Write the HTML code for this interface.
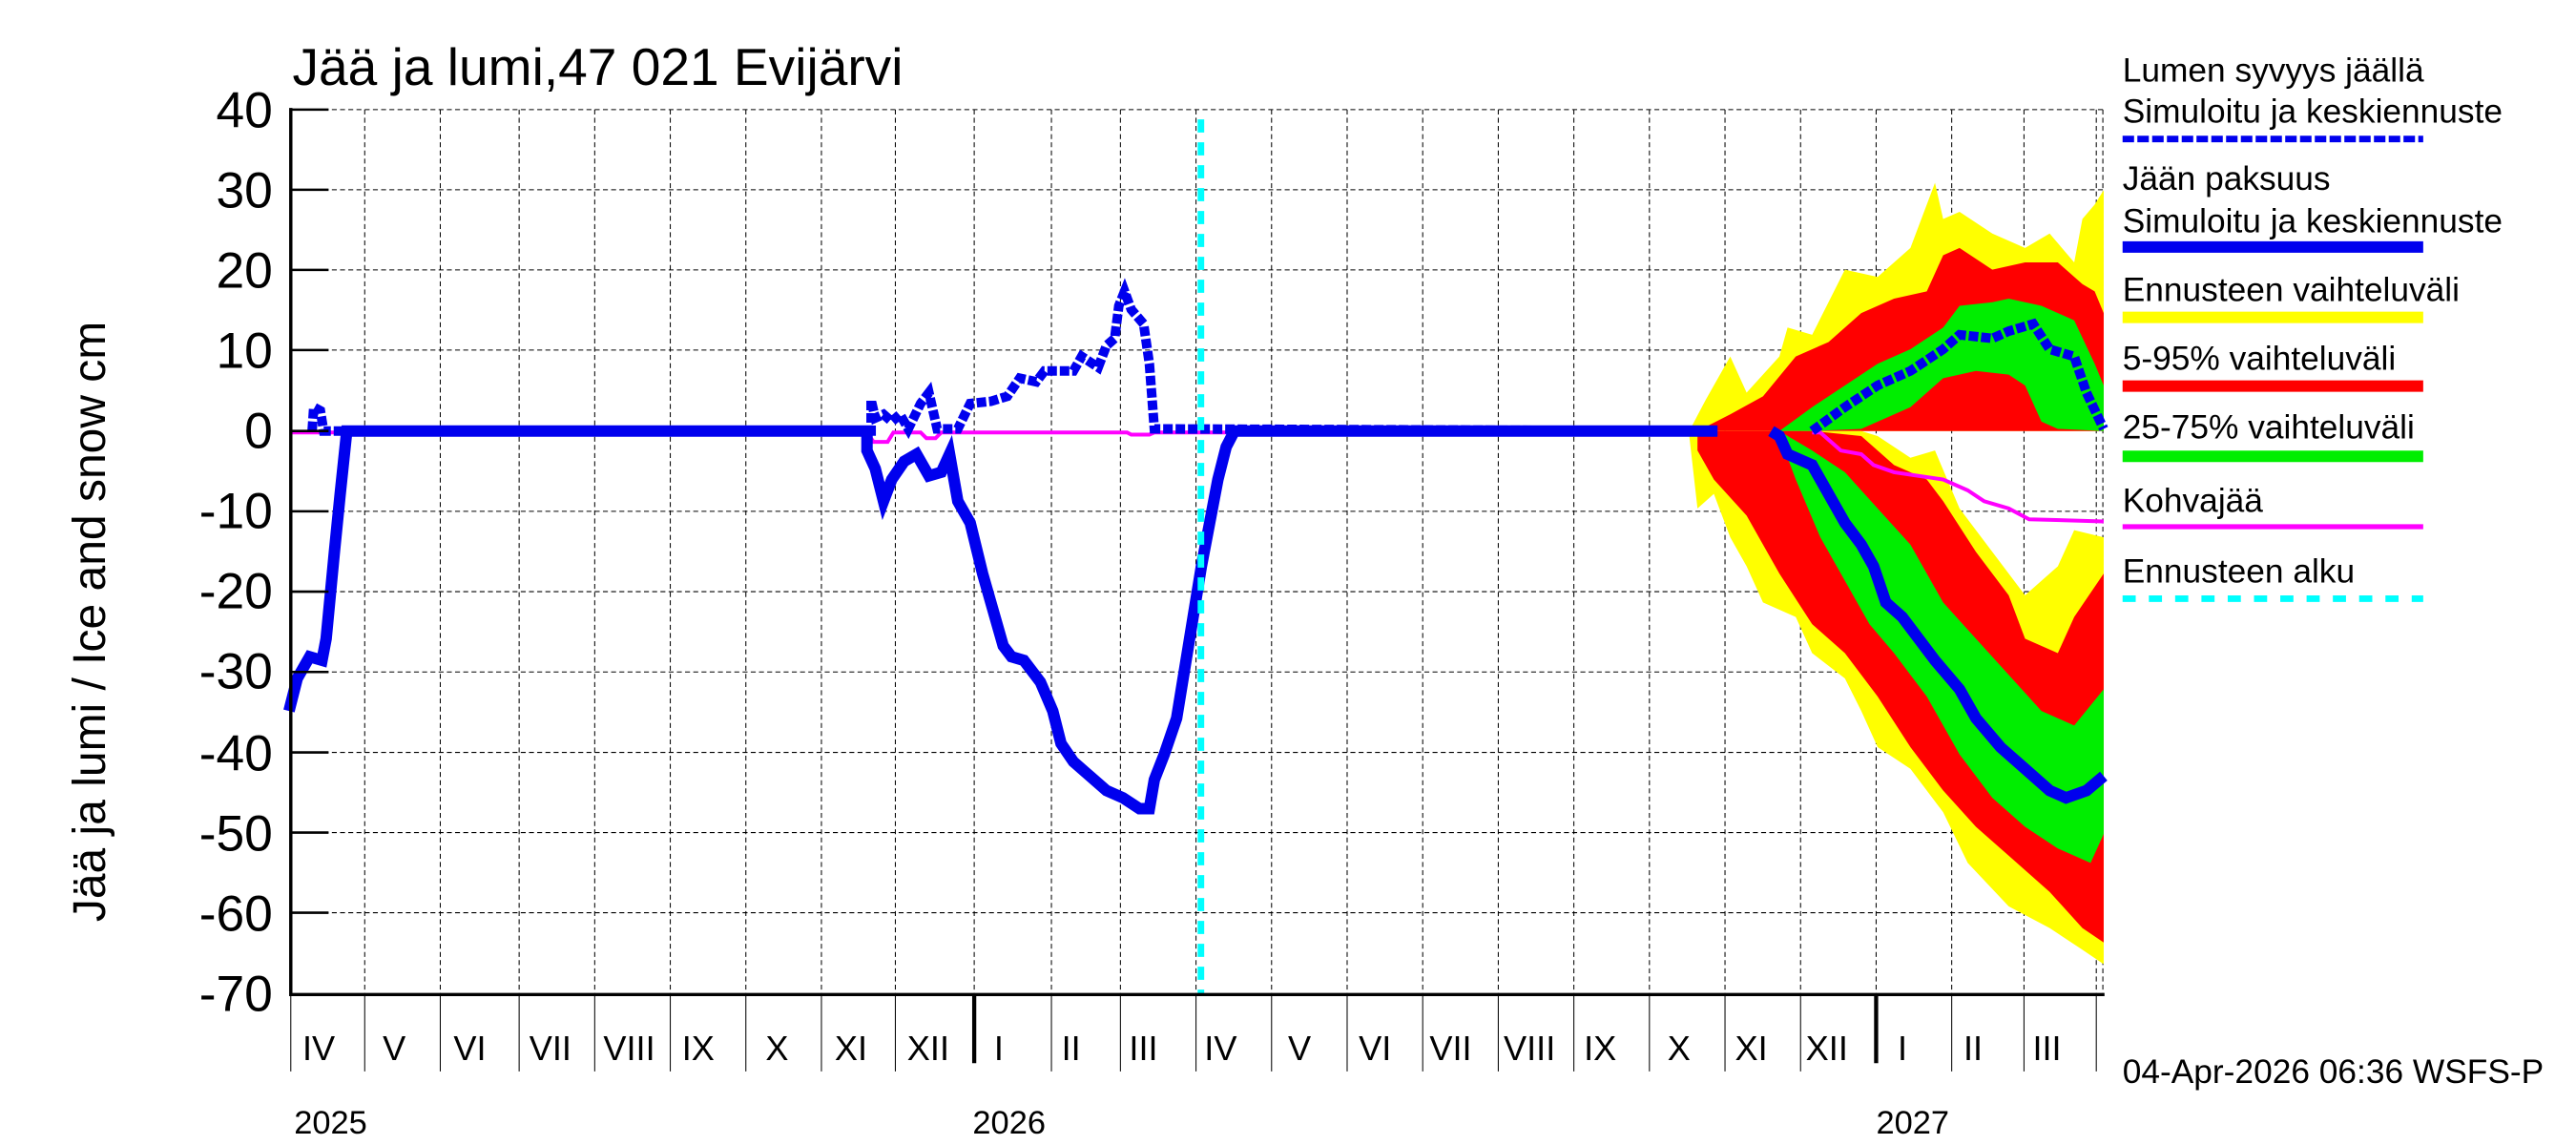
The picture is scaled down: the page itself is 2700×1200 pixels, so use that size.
<!DOCTYPE html>
<html><head><meta charset="utf-8"><style>html,body{margin:0;padding:0;background:#fff}svg{display:block}</style></head>
<body>
<svg width="2700" height="1200" viewBox="0 0 1568 700" preserveAspectRatio="none" xmlns="http://www.w3.org/2000/svg" font-family="Liberation Sans, sans-serif">
<rect width="1568" height="700" fill="#fff"/>
<!-- grid -->
<g stroke="#000" stroke-width="0.6" stroke-dasharray="3,2" fill="none">
<path d="M177 67H1280M177 116H1280M177 165H1280M177 214H1280M177 312.6H1280M177 361.7H1280M177 410.8H1280M177 460H1280M177 509H1280M177 558H1280"/>
<path d="M222 67V608M268 67V608M316 67V608M362 67V608M408 67V608M454 67V608M500 67V608M545 67V608M593 67V608M640 67V608M682 67V608M728 67V608M774 67V608M820 67V608M866 67V608M912 67V608M958 67V608M1004 67V608M1050 67V608M1096 67V608M1142 67V608M1188 67V608M1232 67V608M1276 67V608M1280 67V608"/>
</g>
<!-- forecast bands (zoom2 coords) -->
<g transform="translate(784,263.5) scale(0.4985,0.4423) translate(0,-593)">
<polygon fill="#ffff00" points="490,593 510,550 540,490 560,540 600,490 610,450 640,460 680,370 720,380 760,340 790,250 800,300 820,290 860,320 900,340 930,320 960,360 970,300 985,280 996,260 996,593"/>
<polygon fill="#ff0000" points="500,593 540,570 580,545 620,490 660,470 700,430 740,410 780,400 800,350 820,340 860,370 900,360 940,360 970,390 985,400 996,430 996,593"/>
<polygon fill="#00ee00" points="600,593 640,560 680,530 720,500 760,480 800,450 820,420 860,415 880,410 920,420 960,440 985,500 996,530 996,593 940,590 920,580 900,530 880,515 840,510 800,520 760,560 700,590 640,593"/>
<polygon fill="#ffff00" points="490,593 700,593 720,600 760,630 790,620 820,700 860,760 900,820 940,780 960,730 996,740 996,1330 970,1310 930,1280 880,1250 830,1190 800,1120 760,1060 720,1030 700,980 680,935 640,900 620,850 580,830 560,780 540,740 520,680 500,700 490,600"/>
<polygon fill="#ff0000" points="500,593 640,593 700,600 740,640 780,660 800,690 840,760 880,820 900,880 940,900 960,850 996,790 996,1300 970,1280 930,1230 880,1180 840,1140 800,1090 760,1030 720,960 680,900 640,860 600,790 560,710 520,660 500,620"/>
<polygon fill="#00ee00" points="600,593 640,620 680,650 720,700 760,750 800,830 840,880 880,930 920,980 960,1000 996,950 996,1150 980,1190 940,1170 900,1140 860,1100 820,1040 780,960 740,900 710,860 680,800 650,740 620,660 600,600"/>
<polyline fill="none" stroke="#ff00ff" stroke-width="4" vector-effect="non-scaling-stroke" points="640,595 650,595 675,620 700,625 715,640 740,650 800,660 830,675 850,690 880,700 905,715 996,718"/>
<polyline fill="none" stroke="#0000ee" stroke-width="12" vector-effect="non-scaling-stroke" points="590,593 600,600 610,625 640,640 660,680 680,720 700,750 715,780 730,830 750,850 770,880 790,910 820,950 840,990 870,1030 900,1060 930,1090 950,1100 975,1090 996,1070"/>
<polyline fill="none" stroke="#0000ee" stroke-width="10" stroke-dasharray="10,3" vector-effect="non-scaling-stroke" points="640,593 680,560 720,530 760,510 800,480 820,460 860,465 880,455 910,445 930,480 960,490 975,540 996,590"/>
</g>
<!-- history (zoom1 coords) -->
<g transform="translate(0,263.5) scale(0.5026,0.4423) translate(0,-593)">
<polyline fill="none" stroke="#ff00ff" stroke-width="4" vector-effect="non-scaling-stroke" points="352,595 1050,595 1058,608 1075,608 1082,595 1115,595 1122,603 1133,603 1140,595 1365,595 1370,598 1392,598 1398,595 1500,595"/>
<polyline fill="none" stroke="#0000ee" stroke-width="12" vector-effect="non-scaling-stroke" points="350,980 360,935 375,905 390,910 395,880 405,760 412,680 420,593 1050,593 1050,620 1060,645 1070,690 1080,660 1095,635 1110,625 1125,655 1140,650 1150,625 1160,690 1175,720 1190,790 1205,850 1215,890 1225,905 1240,910 1260,940 1275,980 1285,1025 1300,1050 1320,1070 1340,1090 1360,1100 1380,1115 1392,1115 1398,1075 1410,1040 1425,990 1435,920 1445,850 1455,780 1465,720 1475,660 1485,615 1495,593 2080,593"/>
<polyline fill="none" stroke="#0000ee" stroke-width="10" stroke-dasharray="10,3" vector-effect="non-scaling-stroke" points="378,593 380,560 388,565 392,593 1055,593 1055,550 1060,575 1070,570 1080,580 1090,570 1100,590 1115,555 1125,540 1135,590 1160,590 1175,555 1200,552 1220,545 1235,520 1255,525 1265,510 1300,510 1310,490 1330,505 1340,475 1350,465 1355,420 1362,400 1370,425 1385,445 1392,500 1398,590 2080,593"/>
</g>
<!-- forecast start -->
<line x1="731" y1="73" x2="731" y2="608" stroke="#00ffff" stroke-width="4" stroke-dasharray="8,6"/>
<!-- axes -->
<g stroke="#000" fill="none">
<path d="M177 66V609M176 608H1281" stroke-width="2"/>
<path d="M177 67H200M177 116H200M177 165H200M177 214H200M177 263.5H200M177 312.6H200M177 361.7H200M177 410.8H200M177 460H200M177 509H200M177 558H200" stroke-width="1.5"/>
<path d="M177 608V655M222 608V655M268 608V655M316 608V655M362 608V655M408 608V655M454 608V655M500 608V655M545 608V655M640 608V655M682 608V655M728 608V655M774 608V655M820 608V655M866 608V655M912 608V655M958 608V655M1004 608V655M1050 608V655M1096 608V655M1188 608V655M1232 608V655M1276 608V655" stroke-width="0.6"/>
<path d="M593 608V650M1142 608V650" stroke-width="2.5"/>
</g>
<g font-size="31" text-anchor="end" fill="#000">
<text x="166" y="78">40</text><text x="166" y="127">30</text><text x="166" y="176">20</text><text x="166" y="225">10</text><text x="166" y="274">0</text><text x="166" y="323">-10</text><text x="166" y="372">-20</text><text x="166" y="421">-30</text><text x="166" y="471">-40</text><text x="166" y="520">-50</text><text x="166" y="569">-60</text><text x="166" y="618">-70</text>
</g>
<text transform="translate(64,380) rotate(-90)" font-size="28" text-anchor="middle">Jää ja lumi / Ice and snow    cm</text>
<text x="178" y="52" font-size="32">Jää ja lumi,47 021 Evijärvi</text>
<g font-size="21" text-anchor="middle">
<text x="194" y="648">IV</text><text x="240" y="648">V</text><text x="286" y="648">VI</text><text x="335" y="648">VII</text><text x="383" y="648">VIII</text><text x="425" y="648">IX</text><text x="473" y="648">X</text><text x="518" y="648">XI</text><text x="565" y="648">XII</text><text x="608" y="648">I</text><text x="652" y="648">II</text><text x="696" y="648">III</text><text x="743" y="648">IV</text><text x="791" y="648">V</text><text x="837" y="648">VI</text><text x="883" y="648">VII</text><text x="931" y="648">VIII</text><text x="974" y="648">IX</text><text x="1022" y="648">X</text><text x="1066" y="648">XI</text><text x="1112" y="648">XII</text><text x="1158" y="648">I</text><text x="1201" y="648">II</text><text x="1246" y="648">III</text>
</g>
<g font-size="20"><text x="179" y="693">2025</text><text x="592" y="693">2026</text><text x="1142" y="693">2027</text></g>
<g font-size="20.5">
<text x="1292" y="50">Lumen syvyys jäällä</text>
<text x="1292" y="75">Simuloitu ja keskiennuste</text>
<text x="1292" y="116">Jään paksuus</text>
<text x="1292" y="142">Simuloitu ja keskiennuste</text>
<text x="1292" y="184">Ennusteen vaihteluväli</text>
<text x="1292" y="226">5-95% vaihteluväli</text>
<text x="1292" y="268">25-75% vaihteluväli</text>
<text x="1292" y="313">Kohvajää</text>
<text x="1292" y="356">Ennusteen alku</text>
<text x="1292" y="662">04-Apr-2026 06:36 WSFS-P</text>
</g>
<line x1="1292" y1="85" x2="1475" y2="85" stroke="#0000ee" stroke-width="4" stroke-dasharray="7,2"/>
<line x1="1292" y1="151" x2="1475" y2="151" stroke="#0000ee" stroke-width="7"/>
<line x1="1292" y1="194" x2="1475" y2="194" stroke="#ffff00" stroke-width="7"/>
<line x1="1292" y1="236" x2="1475" y2="236" stroke="#ff0000" stroke-width="7"/>
<line x1="1292" y1="279" x2="1475" y2="279" stroke="#00ee00" stroke-width="7"/>
<line x1="1292" y1="322" x2="1475" y2="322" stroke="#ff00ff" stroke-width="3"/>
<line x1="1292" y1="366" x2="1475" y2="366" stroke="#00ffff" stroke-width="4" stroke-dasharray="8,8"/>
</svg>
</body></html>
